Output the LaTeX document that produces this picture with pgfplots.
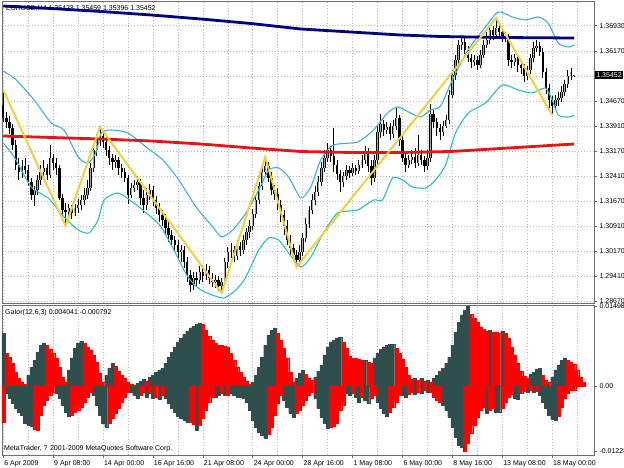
\documentclass[border=0pt]{standalone}
\usepackage{fontspec}
\setmainfont{Liberation Sans}
\usepackage{pgfplots}
\usepackage{pgfplotstable}
\pgfplotsset{compat=1.18}

\definecolor{mtnavy}{RGB}{0,0,128}
\definecolor{mtred}{RGB}{232,20,20}
\definecolor{zzgold}{RGB}{240,208,60}
\definecolor{bbup}{RGB}{60,175,225}
\definecolor{bbdn}{RGB}{40,190,200}
\definecolor{gtgray}{RGB}{47,79,79}
\definecolor{gridc}{RGB}{185,185,185}
\definecolor{framec}{RGB}{110,110,110}
\newcommand\mt{\fontsize{7}{8}\selectfont}

% EURUSD H4 candles: bar index, open, high, low, close
\pgfplotstableread{
i o h l c
0 1.3455 1.3500 1.3404 1.3416
1 1.3416 1.3434 1.3386 1.3404
2 1.3404 1.3422 1.3368 1.3386
3 1.3386 1.3398 1.3320 1.3335
4 1.3335 1.3350 1.3260 1.3275
5 1.3275 1.3296 1.3230 1.3254
6 1.3254 1.3290 1.3236 1.3272
7 1.3272 1.3296 1.3248 1.3260
8 1.3260 1.3275 1.3212 1.3224
9 1.3224 1.3236 1.3170 1.3185
10 1.3185 1.3212 1.3152 1.3200
11 1.3200 1.3245 1.3185 1.3230
12 1.3230 1.3275 1.3215 1.3254
13 1.3254 1.3290 1.3236 1.3266
14 1.3266 1.3278 1.3230 1.3245
15 1.3245 1.3335 1.3236 1.3296
16 1.3296 1.3308 1.3260 1.3281
17 1.3281 1.3296 1.3245 1.3266
18 1.3266 1.3275 1.3170 1.3176
19 1.3176 1.3188 1.3122 1.3140
20 1.3140 1.3161 1.3092 1.3134
21 1.3134 1.3158 1.3122 1.3146
22 1.3146 1.3155 1.3113 1.3131
23 1.3131 1.3158 1.3122 1.3146
24 1.3146 1.3173 1.3131 1.3155
25 1.3155 1.3185 1.3140 1.3170
26 1.3170 1.3206 1.3155 1.3185
27 1.3185 1.3230 1.3173 1.3206
28 1.3206 1.3281 1.3197 1.3266
29 1.3266 1.3338 1.3254 1.3320
30 1.3320 1.3368 1.3302 1.3350
31 1.3350 1.3389 1.3332 1.3362
32 1.3362 1.3377 1.3326 1.3344
33 1.3344 1.3359 1.3302 1.3320
34 1.3320 1.3332 1.3275 1.3296
35 1.3296 1.3308 1.3260 1.3284
36 1.3284 1.3305 1.3266 1.3290
37 1.3290 1.3299 1.3245 1.3266
38 1.3266 1.3278 1.3236 1.3254
39 1.3254 1.3266 1.3224 1.3236
40 1.3236 1.3245 1.3158 1.3185
41 1.3185 1.3221 1.3176 1.3206
42 1.3206 1.3230 1.3194 1.3215
43 1.3215 1.3242 1.3200 1.3224
44 1.3224 1.3233 1.3155 1.3176
45 1.3176 1.3200 1.3131 1.3155
46 1.3155 1.3206 1.3140 1.3185
47 1.3185 1.3218 1.3170 1.3200
48 1.3200 1.3212 1.3152 1.3170
49 1.3170 1.3182 1.3128 1.3146
50 1.3146 1.3161 1.3104 1.3125
51 1.3125 1.3140 1.3092 1.3110
52 1.3110 1.3128 1.3068 1.3086
53 1.3086 1.3104 1.3044 1.3065
54 1.3065 1.3080 1.3032 1.3050
55 1.3050 1.3062 1.3020 1.3035
56 1.3035 1.3050 1.2996 1.3014
57 1.3014 1.3035 1.2984 1.3020
58 1.3020 1.3032 1.2966 1.2984
59 1.2984 1.2999 1.2924 1.2945
60 1.2945 1.2960 1.2894 1.2915
61 1.2915 1.2954 1.2900 1.2936
62 1.2936 1.2954 1.2912 1.2930
63 1.2930 1.2972 1.2918 1.2954
64 1.2954 1.2975 1.2924 1.2942
65 1.2942 1.2978 1.2930 1.2960
66 1.2960 1.2972 1.2918 1.2936
67 1.2936 1.2951 1.2909 1.2924
68 1.2924 1.2945 1.2906 1.2930
69 1.2930 1.2942 1.2897 1.2912
70 1.2912 1.2936 1.2891 1.2924
71 1.2924 1.2996 1.2912 1.2984
72 1.2984 1.3029 1.2966 1.3014
73 1.3014 1.3041 1.2996 1.3020
74 1.3020 1.3032 1.2984 1.3002
75 1.3002 1.3050 1.2990 1.3032
76 1.3032 1.3044 1.3002 1.3020
77 1.3020 1.3065 1.3008 1.3050
78 1.3050 1.3086 1.3035 1.3074
79 1.3074 1.3110 1.3056 1.3092
80 1.3092 1.3143 1.3080 1.3128
81 1.3128 1.3182 1.3116 1.3170
82 1.3170 1.3224 1.3158 1.3212
83 1.3212 1.3272 1.3200 1.3254
84 1.3254 1.3299 1.3242 1.3272
85 1.3272 1.3284 1.3224 1.3236
86 1.3236 1.3254 1.3185 1.3200
87 1.3200 1.3215 1.3170 1.3188
88 1.3188 1.3206 1.3140 1.3155
89 1.3155 1.3170 1.3104 1.3125
90 1.3125 1.3140 1.3065 1.3092
91 1.3092 1.3110 1.3035 1.3050
92 1.3050 1.3065 1.3005 1.3026
93 1.3026 1.3038 1.2990 1.3005
94 1.3005 1.3020 1.2969 1.2990
95 1.2990 1.3035 1.2975 1.3014
96 1.3014 1.3071 1.3002 1.3056
97 1.3056 1.3116 1.3044 1.3098
98 1.3098 1.3152 1.3086 1.3140
99 1.3140 1.3188 1.3128 1.3170
100 1.3170 1.3212 1.3155 1.3194
101 1.3194 1.3242 1.3182 1.3224
102 1.3224 1.3284 1.3212 1.3266
103 1.3266 1.3320 1.3254 1.3296
104 1.3296 1.3341 1.3284 1.3320
105 1.3320 1.3332 1.3284 1.3302
106 1.3302 1.3386 1.3254 1.3275
107 1.3275 1.3290 1.3230 1.3248
108 1.3248 1.3260 1.3194 1.3224
109 1.3224 1.3254 1.3209 1.3242
110 1.3242 1.3275 1.3230 1.3260
111 1.3260 1.3272 1.3236 1.3251
112 1.3251 1.3281 1.3242 1.3266
113 1.3266 1.3275 1.3245 1.3257
114 1.3257 1.3290 1.3248 1.3275
115 1.3275 1.3305 1.3266 1.3290
116 1.3290 1.3332 1.3278 1.3314
117 1.3314 1.3326 1.3254 1.3272
118 1.3272 1.3290 1.3215 1.3236
119 1.3236 1.3305 1.3224 1.3290
120 1.3290 1.3392 1.3278 1.3374
121 1.3374 1.3428 1.3356 1.3398
122 1.3398 1.3410 1.3362 1.3380
123 1.3380 1.3404 1.3368 1.3389
124 1.3389 1.3401 1.3350 1.3368
125 1.3368 1.3410 1.3356 1.3392
126 1.3392 1.3446 1.3380 1.3416
127 1.3416 1.3425 1.3332 1.3350
128 1.3350 1.3362 1.3284 1.3296
129 1.3296 1.3308 1.3254 1.3275
130 1.3275 1.3305 1.3266 1.3290
131 1.3290 1.3320 1.3278 1.3299
132 1.3299 1.3326 1.3266 1.3281
133 1.3281 1.3365 1.3272 1.3305
134 1.3305 1.3320 1.3275 1.3290
135 1.3290 1.3302 1.3254 1.3272
136 1.3272 1.3320 1.3260 1.3296
137 1.3296 1.3458 1.3284 1.3428
138 1.3428 1.3440 1.3386 1.3404
139 1.3404 1.3416 1.3362 1.3386
140 1.3386 1.3398 1.3350 1.3374
141 1.3374 1.3407 1.3362 1.3392
142 1.3392 1.3425 1.3386 1.3410
143 1.3410 1.3500 1.3398 1.3485
144 1.3485 1.3560 1.3476 1.3545
145 1.3545 1.3605 1.3530 1.3590
146 1.3590 1.3650 1.3578 1.3635
147 1.3635 1.3662 1.3620 1.3644
148 1.3644 1.3656 1.3608 1.3620
149 1.3620 1.3632 1.3584 1.3596
150 1.3596 1.3608 1.3566 1.3584
151 1.3584 1.3605 1.3572 1.3590
152 1.3590 1.3602 1.3560 1.3575
153 1.3575 1.3620 1.3566 1.3605
154 1.3605 1.3650 1.3596 1.3635
155 1.3635 1.3674 1.3626 1.3650
156 1.3650 1.3695 1.3638 1.3680
157 1.3680 1.3692 1.3650 1.3665
158 1.3665 1.3716 1.3656 1.3686
159 1.3686 1.3698 1.3662 1.3674
160 1.3674 1.3686 1.3644 1.3656
161 1.3656 1.3674 1.3644 1.3662
162 1.3662 1.3668 1.3572 1.3590
163 1.3590 1.3605 1.3566 1.3584
164 1.3584 1.3608 1.3572 1.3596
165 1.3596 1.3605 1.3554 1.3575
166 1.3575 1.3587 1.3548 1.3566
167 1.3566 1.3578 1.3524 1.3542
168 1.3542 1.3572 1.3530 1.3560
169 1.3560 1.3608 1.3548 1.3596
170 1.3596 1.3644 1.3584 1.3626
171 1.3626 1.3650 1.3614 1.3632
172 1.3632 1.3644 1.3602 1.3614
173 1.3614 1.3626 1.3536 1.3554
174 1.3554 1.3566 1.3488 1.3506
175 1.3506 1.3518 1.3446 1.3470
176 1.3470 1.3482 1.3425 1.3452
177 1.3452 1.3485 1.3440 1.3470
178 1.3470 1.3494 1.3452 1.3476
179 1.3476 1.3512 1.3464 1.3494
180 1.3494 1.3530 1.3482 1.3518
181 1.3518 1.3560 1.3506 1.3542
182 1.3542 1.3566 1.3530 1.3554
183 1.35423 1.35459 1.35396 1.35452
}\candles

\pgfplotstableread{
i p
0 1.3557
4.2 1.3530
9.9 1.3470
15.4 1.3401
19.5 1.3380
24 1.3299
27.2 1.3281
29.8 1.3314
31.4 1.3371
34.6 1.3380
40 1.3371
45.8 1.3329
51.2 1.3290
56.3 1.3230
61.8 1.3149
67.2 1.3089
70 1.3059
73.6 1.3080
77.8 1.3131
81.9 1.3200
85.1 1.3260
88.3 1.3266
91.5 1.3239
95.4 1.3176
98.6 1.3209
101.8 1.3290
105.9 1.3335
113.6 1.3344
118.7 1.3380
123.2 1.3431
126.4 1.3449
130.6 1.3431
133.8 1.3419
137 1.3440
140.2 1.3452
144 1.3530
149 1.3620
154.6 1.3689
158.7 1.3734
163.2 1.3719
167.4 1.3710
171.5 1.3719
174.7 1.3701
177.9 1.3641
181.1 1.3629
183 1.3635
}\bbupper

\pgfplotstableread{
i p
0 1.3341
3.5 1.3299
9 1.3209
14.4 1.3176
19.5 1.3119
24 1.3080
27.5 1.3071
30.4 1.3110
32.3 1.3170
36.8 1.3191
41.9 1.3161
47.4 1.3119
50.6 1.3089
54.7 1.3020
59.2 1.2939
63.4 1.2900
70.4 1.2876
74.6 1.2900
77.8 1.2939
81.9 1.3020
85.1 1.3056
88.3 1.3050
91.5 1.3011
95.4 1.2969
98.6 1.2999
102.7 1.3071
107.2 1.3131
113.6 1.3140
118.7 1.3170
121.6 1.3170
124.8 1.3236
128 1.3230
131.2 1.3209
135.4 1.3206
138.6 1.3230
141.8 1.3275
145 1.3371
149.1 1.3431
154.6 1.3461
160 1.3515
165.1 1.3500
169.6 1.3491
173.8 1.3506
176 1.3470
177.9 1.3425
181.1 1.3419
183 1.3425
}\bblower

\pgfplotstableread{
i p
0 1.3752
15.4 1.37445
31.4 1.37355
47.4 1.3725
63.4 1.3713
79.4 1.36995
95.4 1.3683
111.4 1.3674
127.4 1.3665
140.2 1.36605
159.4 1.36575
183 1.3656
}\maslow

\pgfplotstableread{
i p
0 1.3362
15.4 1.33575
31.4 1.3353
47.4 1.3347
63.4 1.3338
79.4 1.3326
95.4 1.33155
111.4 1.33125
127.4 1.33125
143.4 1.33155
159.4 1.33245
183 1.3338
}\mamid

\pgfplotstableread{
i p
0 1.3500
20 1.3092
31 1.3389
70 1.2891
84 1.3299
94 1.2969
158 1.3716
176 1.3425
}\zigzag

% Gator: upper value, colour (1 grey = rising, 0 red = falling), lower value, colour
\pgfplotstableread{
i up uc dn dc
0 0.00993 1 -0.00675 0
1 0.00618 0 -0.00131 1
2 0.00543 0 -0.00225 1
3 0.00431 0 -0.00319 1
4 0.00262 0 -0.00412 1
5 0.00150 0 -0.00487 1
6 0.00075 0 -0.00543 1
7 0.00037 0 -0.00693 1
8 0.00206 1 -0.00731 1
9 0.00356 1 -0.00750 1
10 0.00487 1 -0.00806 0
11 0.00637 1 -0.00825 0
12 0.00768 1 -0.00543 0
13 0.00806 1 -0.00356 0
14 0.00768 0 -0.00262 0
15 0.00693 0 -0.00169 0
16 0.00618 0 -0.00112 0
17 0.00525 0 -0.00131 1
18 0.00356 0 -0.00225 1
19 0.00169 0 -0.00356 1
20 0.00075 0 -0.00487 1
21 0.00300 1 -0.00562 1
22 0.00525 1 -0.00543 0
23 0.00712 1 -0.00487 0
24 0.00806 1 -0.00450 0
25 0.00843 1 -0.00394 0
26 0.00806 0 -0.00300 0
27 0.00731 0 -0.00206 0
28 0.00675 0 -0.00112 0
29 0.00581 0 -0.00169 1
30 0.00450 0 -0.00356 1
31 0.00244 0 -0.00543 1
32 0.00075 0 -0.00693 1
33 0.00206 1 -0.00768 1
34 0.00337 1 -0.00693 0
35 0.00431 1 -0.00600 0
36 0.00375 0 -0.00506 0
37 0.00281 0 -0.00412 0
38 0.00206 0 -0.00300 0
39 0.00150 0 -0.00206 0
40 0.00075 0 -0.00112 0
41 0.00037 0 -0.00112 1
42 0.00019 0 -0.00169 1
43 0.00056 1 -0.00225 1
44 0.00094 1 -0.00169 0
45 0.00131 1 -0.00112 0
46 0.00094 0 -0.00206 1
47 0.00169 1 -0.00131 0
48 0.00206 1 -0.00225 1
49 0.00262 1 -0.00206 0
50 0.00300 1 -0.00244 1
51 0.00337 1 -0.00169 0
52 0.00431 1 -0.00225 1
53 0.00543 1 -0.00319 1
54 0.00637 1 -0.00412 1
55 0.00731 1 -0.00487 1
56 0.00825 1 -0.00562 1
57 0.00900 1 -0.00600 1
58 0.00974 1 -0.00637 1
59 0.01031 1 -0.00675 1
60 0.01087 1 -0.00675 0
61 0.01124 1 -0.00712 0
62 0.01162 1 -0.00825 1
63 0.01181 1 -0.00731 0
64 0.01162 0 -0.00600 0
65 0.01049 0 -0.00450 0
66 0.00937 0 -0.00300 0
67 0.00862 0 -0.00206 0
68 0.00806 0 -0.00206 1
69 0.00768 0 -0.00169 1
70 0.00768 0 -0.00131 0
71 0.00750 0 -0.00169 1
72 0.00731 0 -0.00169 0
73 0.00618 0 -0.00131 1
74 0.00487 0 -0.00169 1
75 0.00356 0 -0.00206 1
76 0.00262 0 -0.00206 1
77 0.00169 0 -0.00225 1
78 0.00094 0 -0.00300 1
79 0.00037 0 -0.00450 1
80 0.00075 1 -0.00637 1
81 0.00206 1 -0.00768 1
82 0.00356 1 -0.00862 1
83 0.00543 1 -0.00918 1
84 0.00768 1 -0.00974 1
85 0.00956 1 -0.00900 0
86 0.01049 1 -0.00768 0
87 0.01087 1 -0.00543 0
88 0.00993 0 -0.00319 0
89 0.00862 0 -0.00169 0
90 0.00712 0 -0.00262 1
91 0.00525 0 -0.00394 1
92 0.00262 0 -0.00506 1
93 0.00075 0 -0.00581 1
94 0.00150 1 -0.00506 0
95 0.00244 1 -0.00450 0
96 0.00300 1 -0.00356 0
97 0.00225 0 -0.00262 0
98 0.00150 0 -0.00169 0
99 0.00112 0 -0.00112 0
100 0.00169 1 -0.00225 1
101 0.00281 1 -0.00412 1
102 0.00394 1 -0.00581 1
103 0.00581 1 -0.00693 1
104 0.00731 1 -0.00787 1
105 0.00825 1 -0.00768 0
106 0.00862 1 -0.00750 0
107 0.00900 1 -0.00693 0
108 0.00918 1 -0.00450 0
109 0.00825 0 -0.00356 0
110 0.00712 0 -0.00131 1
111 0.00562 0 -0.00169 1
112 0.00525 0 -0.00131 0
113 0.00525 0 -0.00206 1
114 0.00506 0 -0.00300 1
115 0.00487 0 -0.00206 0
116 0.00487 1 -0.00262 1
117 0.00450 0 -0.00319 1
118 0.00431 0 -0.00225 0
119 0.00525 1 -0.00169 0
120 0.00618 1 -0.00300 1
121 0.00693 1 -0.00412 1
122 0.00731 1 -0.00506 1
123 0.00768 1 -0.00562 1
124 0.00787 1 -0.00487 0
125 0.00787 1 -0.00394 0
126 0.00712 0 -0.00300 0
127 0.00618 0 -0.00169 0
128 0.00506 0 -0.00169 1
129 0.00356 0 -0.00206 1
130 0.00206 0 -0.00150 0
131 0.00131 0 -0.00112 0
132 0.00150 1 -0.00150 1
133 0.00112 0 -0.00112 0
134 0.00150 1 -0.00131 1
135 0.00094 0 -0.00075 0
136 0.00112 1 -0.00112 1
137 0.00075 0 -0.00112 0
138 0.00150 1 -0.00206 0
139 0.00206 1 -0.00262 0
140 0.00281 1 -0.00300 0
141 0.00337 1 -0.00356 1
142 0.00431 1 -0.00450 1
143 0.00543 1 -0.00581 1
144 0.00768 1 -0.00768 1
145 0.01012 1 -0.00956 1
146 0.01199 1 -0.01106 1
147 0.01331 1 -0.01143 1
148 0.01424 1 -0.01228 0
149 0.01499 1 -0.01068 0
150 0.01349 0 -0.00881 0
151 0.01274 0 -0.00731 0
152 0.01199 0 -0.00581 0
153 0.01106 0 -0.00450 0
154 0.01068 0 -0.00394 0
155 0.01031 0 -0.00506 1
156 0.01049 1 -0.00450 0
157 0.01012 0 -0.00412 0
158 0.01012 0 -0.00487 1
159 0.00993 0 -0.00487 1
160 0.01031 1 -0.00412 0
161 0.00993 0 -0.00300 0
162 0.00900 0 -0.00206 0
163 0.00731 0 -0.00150 0
164 0.00581 0 -0.00225 1
165 0.00431 0 -0.00244 1
166 0.00281 0 -0.00131 0
167 0.00187 0 -0.00094 0
168 0.00150 0 -0.00112 1
169 0.00225 1 -0.00075 0
170 0.00262 1 -0.00112 1
171 0.00319 1 -0.00094 0
172 0.00337 1 -0.00169 1
173 0.00206 0 -0.00300 1
174 0.00112 0 -0.00412 1
175 0.00075 0 -0.00543 1
176 0.00169 1 -0.00618 1
177 0.00300 1 -0.00637 1
178 0.00394 1 -0.00562 0
179 0.00487 1 -0.00394 0
180 0.00525 1 -0.00225 0
181 0.00487 0 -0.00131 0
182 0.00450 0 -0.00075 0
183 0.00404 0 -0.00079 0
184 0.00300 0 0 2
185 0.00169 0 0 2
186 0.00075 0 0 2
}\gator

\pgfplotsset{
  mtaxis/.style={
    scale only axis, width=592pt, anchor=south west,
    xmin=-0.4, xmax=189.4,
    axis line style={framec, line width=0.8pt},
    clip mode=individual,
    tick label style={font=\mt},
    ytick pos=right, yticklabel pos=right,
    tick align=outside, major tick length=3pt,
    tick style={framec, line width=0.6pt},
    grid style={gridc, dash pattern=on 0.8pt off 2.2pt, line width=0.6pt},
    minor grid style={gridc, dash pattern=on 0.8pt off 2.2pt, line width=0.6pt},
    yticklabel style={xshift=-1pt},
    scaled y ticks=false,
  },
  gbar/.style={ybar, bar width=1, bar shift=0pt, line width=0.15pt},
}

\begin{document}
\begin{tikzpicture}
\path[use as bounding box] (0pt,0pt) rectangle (624pt,468pt);

% price window
\begin{axis}[mtaxis,
  at={(2pt,165pt)}, height=302pt,
  ymin=1.2861, ymax=1.3767,
  xtick={0,8,...,184}, xticklabels={}, xtick style={draw=none},
  xmajorgrids, ymajorgrids,
  ytick={1.2867,1.2941,1.3017,1.3091,1.3167,1.3241,1.3317,1.3391,1.3467,1.3541,1.3617,1.3693},
  yticklabels={1.28670,1.29410,1.30170,1.30910,1.31670,1.32410,1.33170,1.33910,1.34670,,1.36170,1.36930},
]
\node[anchor=north west, inner sep=0pt, font=\mt, xshift=4pt, yshift=-4pt] at (rel axis cs:0,1)
  {EURUSD,H4 1.35423 1.35459 1.35396 1.35452};

% wicks
\addplot[black, line width=0.8pt, quiver={u=0, v={\thisrow{h}-\thisrow{l}}}]
  table[x=i, y=l] {\candles};
% bear bodies
\addplot[black, line width=2.4pt, quiver={u=0, v={\thisrow{c}-\thisrow{o}}},
  restrict expr to domain={\thisrow{c}-\thisrow{o}}{-1:0}]
  table[x=i, y=o] {\candles};
% bull bodies, outlined
\addplot[black, line width=2.4pt, quiver={u=0, v={\thisrow{c}-\thisrow{o}}},
  restrict expr to domain={\thisrow{c}-\thisrow{o}}{0.00001:1}]
  table[x=i, y=o] {\candles};
\addplot[gray!70, line width=1.0pt, quiver={u=0, v={\thisrow{c}-\thisrow{o}}},
  restrict expr to domain={\thisrow{c}-\thisrow{o}}{0.00001:1}]
  table[x=i, y=o] {\candles};

\addplot[bbup, line width=1.1pt, smooth, tension=0.4] table[x=i, y=p] {\bbupper};
\addplot[bbdn, line width=1.1pt, smooth, tension=0.4] table[x=i, y=p] {\bblower};
\addplot[mtred, line width=2.8pt] table[x=i, y=p] {\mamid};
\addplot[mtnavy, line width=2.8pt] table[x=i, y=p] {\maslow};
\addplot[zzgold, line width=2pt] table[x=i, y=p] {\zigzag};

\node[fill=black, text=white, anchor=west, inner sep=1.2pt, font=\mt, xshift=1pt]
  at (axis cs:189.4,1.35452) {1.35452};
\end{axis}

% Gator window
\begin{axis}[mtaxis,
  at={(2pt,13pt)}, height=150pt,
  ymin=-0.01293, ymax=0.01518,
  xtick pos=left,
  xtick={0,16,...,176},
  xticklabels={6 Apr 2009,9 Apr 08:00,14 Apr 00:00,16 Apr 16:00,21 Apr 08:00,24 Apr 00:00,28 Apr 16:00,1 May 08:00,6 May 00:00,8 May 16:00,13 May 08:00,18 May 00:00},
  xticklabel style={anchor=north west, xshift=-2.5pt, yshift=1pt},
  minor xtick={8,24,...,184}, minor tick length=0pt,
  xmajorgrids, xminorgrids,
  ytick={-0.01228,0,0.014989},
  yticklabels={-0.01228,0.00,\raisebox{-2pt}{0.014989}},
]
\node[anchor=north west, inner sep=0pt, font=\mt, xshift=3pt, yshift=-4pt] at (rel axis cs:0,1)
  {Gator(12,6,3) 0.004041 -0.000792};
\node[anchor=south west, inner sep=0pt, font=\mt, xshift=2pt, yshift=3pt] at (rel axis cs:0,0)
  {MetaTrader, ? 2001-2009 MetaQuotes Software Corp.};

\addplot[gbar, fill=gtgray, draw=gtgray, restrict expr to domain={\thisrow{uc}}{0.5:1.5}]
  table[x=i, y=up] {\gator};
\addplot[gbar, fill=red, draw=red, restrict expr to domain={\thisrow{uc}}{-0.5:0.5}]
  table[x=i, y=up] {\gator};
\addplot[gbar, fill=gtgray, draw=gtgray, restrict expr to domain={\thisrow{dc}}{0.5:1.5}]
  table[x=i, y=dn] {\gator};
\addplot[gbar, fill=red, draw=red, restrict expr to domain={\thisrow{dc}}{-0.5:0.5}]
  table[x=i, y=dn] {\gator};
\end{axis}
\end{tikzpicture}
\end{document}
